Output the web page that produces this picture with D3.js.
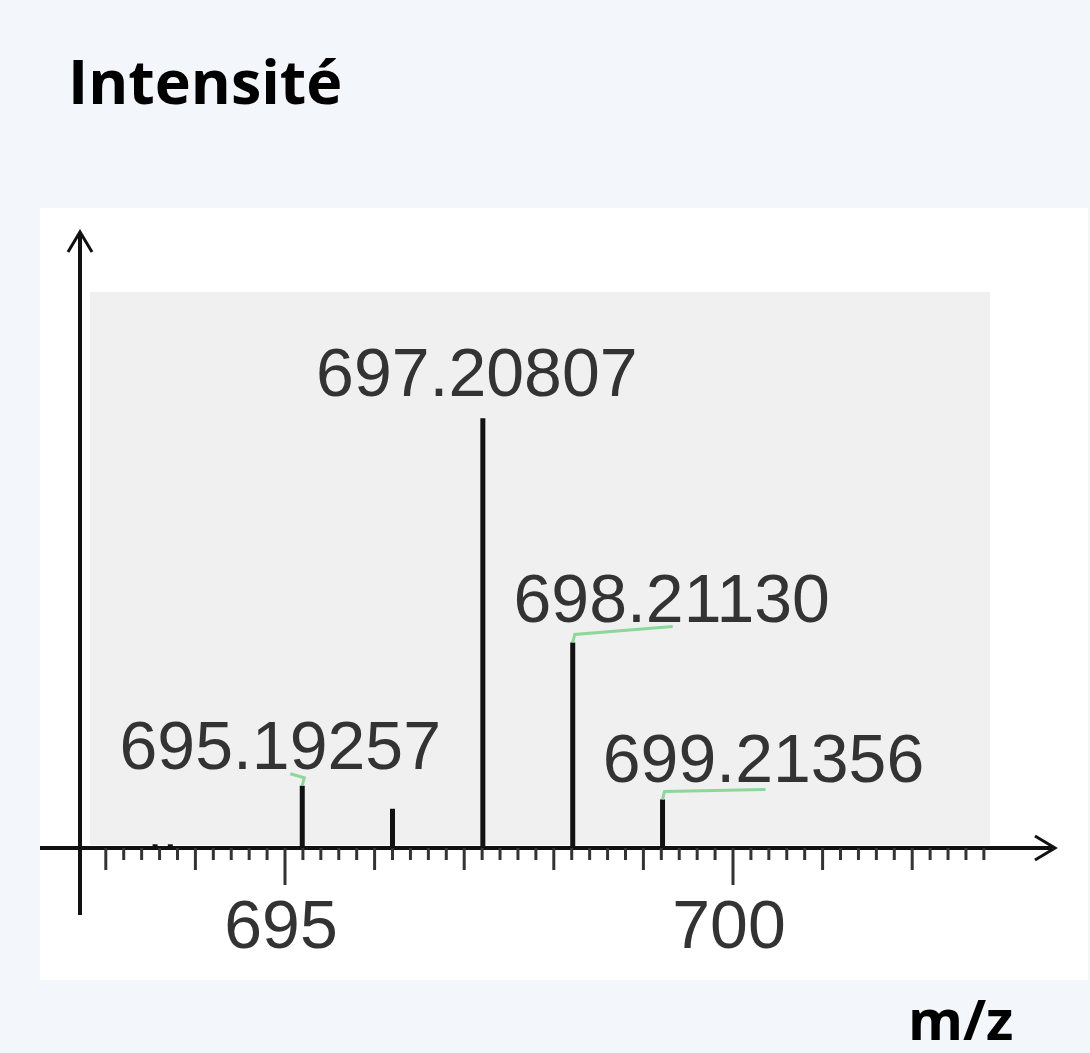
<!DOCTYPE html>
<html><head><meta charset="utf-8">
<script src="https://cdn.jsdelivr.net/npm/d3@7"></script>
<style>body{margin:0;background:#f3f6fb}</style></head>
<body><div id="chart"></div>
<script>
// données du spectre
const mz = [693.55, 693.72, 694.5, 695.19257, 696.2, 697.20807, 698.2113, 699.21356];
const intensity = [6, 6, 3, 100, 63, 690, 330, 78];
const labels = ["", "", "", "695.19257", "", "697.20807", "698.21130", "699.21356"];
const ticksMajor = [695, 700];

const W = 1090, H = 1053;
const svg = d3.select("#chart").append("svg").attr("width", W).attr("height", H);

svg.append("text").attr("x", 68).attr("y", 104).attr("font-family", "Open Sans, sans-serif")
  .attr("font-weight", "bold").attr("font-size", 61).text("Intensité");
svg.append("text").attr("x", 908).attr("y", 1040).attr("font-family", "Open Sans, sans-serif")
  .attr("font-weight", "bold").attr("font-size", 56).text("m/z");

svg.append("rect").attr("x", 40).attr("y", 208).attr("width", 1048).attr("height", 772).attr("fill", "#fff");
svg.append("rect").attr("x", 90).attr("y", 292).attr("width", 900).attr("height", 553).attr("fill", "#f0f0f0");

const x = d3.scaleLinear().domain([695, 700]).range([285, 733]);
const y = d3.scaleLinear().domain([0, 700]).range([848, 412]);

// axes
svg.append("line").attr("x1", 80).attr("x2", 80).attr("y1", 235).attr("y2", 915).attr("stroke", "#111").attr("stroke-width", 4);
svg.append("path").attr("d", "M68,252 L80,232 L92,252").attr("fill", "none").attr("stroke", "#111").attr("stroke-width", 3);
svg.append("line").attr("x1", 40).attr("x2", 1052).attr("y1", 848).attr("y2", 848).attr("stroke", "#111").attr("stroke-width", 4);
svg.append("path").attr("d", "M1035,836 L1055,848 L1035,860").attr("fill", "none").attr("stroke", "#111").attr("stroke-width", 3);

const minor = d3.range(693.0, 702.9, 0.2);
svg.append("g").selectAll("line").data(minor).join("line")
  .attr("x1", d => x(d)).attr("x2", d => x(d)).attr("y1", 848)
  .attr("y2", d => { const r = Math.round(d * 5) / 5; return Math.abs(r % 5) < 0.01 ? 885 : Math.abs(r - Math.round(r)) < 0.01 ? 870 : 860; })
  .attr("stroke", "#333").attr("stroke-width", 3);

svg.append("g").selectAll("text").data(ticksMajor).join("text")
  .attr("x", d => x(d) - 4).attr("y", 948).attr("text-anchor", "middle")
  .attr("font-family", "Liberation Sans, Arial, sans-serif").attr("font-size", 68).attr("fill", "#333").text(d => d);

// pics
svg.append("g").selectAll("line").data(mz).join("line")
  .attr("x1", d => x(d)).attr("x2", d => x(d)).attr("y1", 848)
  .attr("y2", (d, i) => y(intensity[i])).attr("stroke", "#111").attr("stroke-width", 5);

const lab = mz.map((d, i) => ({ m: d, v: intensity[i], t: labels[i] })).filter(d => d.t);
// [dx texte, dy texte, fin du trait vert]
const off = { "695.19257": [-22, 17, [-12, -12]], "697.20807": [-6, 22, null], "698.21130": [99, 20, [100, -16]], "699.21356": [101, 17, [103, -10]] };
const lg = svg.append("g");
lab.forEach(d => {
  const [dx, dy, g] = off[d.t];
  const px = x(d.m), py = y(d.v);
  if (g) lg.append("path").attr("d", `M${px},${py} L${px + 2},${py - 8} L${px + g[0]},${py + g[1]}`)
    .attr("fill", "none").attr("stroke", "#8fd69a").attr("stroke-width", 3);
  lg.append("text").attr("x", px + dx).attr("y", py - dy).attr("text-anchor", "middle")
    .attr("font-family", "Liberation Sans, Arial, sans-serif").attr("font-size", 68).attr("fill", "#333").text(d.t);
});
</script></body></html>
